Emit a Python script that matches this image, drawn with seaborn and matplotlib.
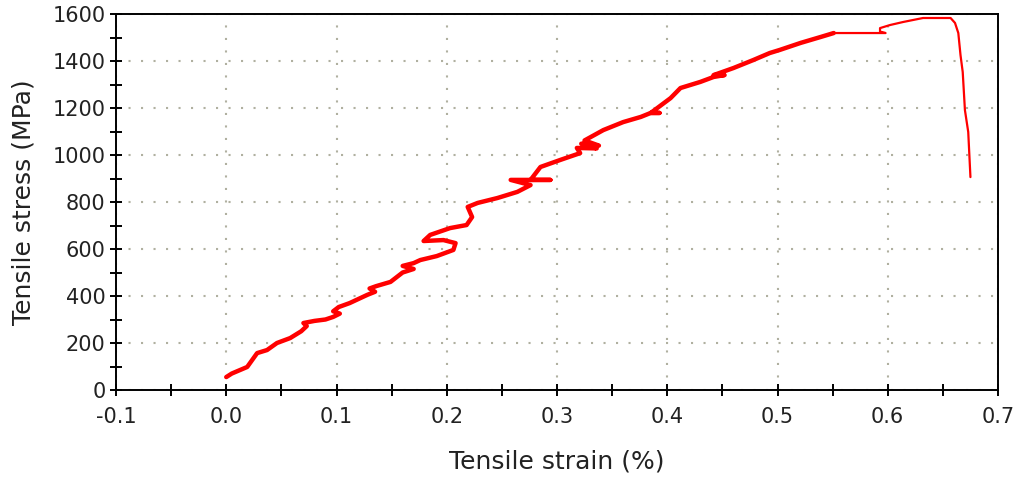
import matplotlib
matplotlib.use("Agg")
import matplotlib.pyplot as plt
from matplotlib.ticker import MultipleLocator
import seaborn as sns
import pandas as pd

strain = [0.000, 0.005, 0.019, 0.028, 0.037, 0.046, 0.058, 0.068, 0.073, 0.070, 0.080,
          0.090, 0.097, 0.103, 0.097, 0.102, 0.112, 0.128, 0.135, 0.130, 0.136, 0.149,
          0.160, 0.170, 0.160, 0.170, 0.176, 0.191, 0.206, 0.208, 0.197, 0.179,
          0.185, 0.203, 0.218, 0.223, 0.219, 0.228, 0.246, 0.264, 0.276, 0.258, 0.294,
          0.276, 0.285, 0.303, 0.321, 0.318, 0.336, 0.322, 0.338, 0.325, 0.342, 0.360,
          0.376, 0.385, 0.393, 0.385, 0.391, 0.403, 0.412, 0.430, 0.442, 0.452, 0.442,
          0.460, 0.478, 0.493, 0.502, 0.521, 0.539, 0.551, 0.598, 0.593, 0.593, 0.602,
          0.614, 0.632, 0.657, 0.661, 0.664, 0.666, 0.668, 0.670, 0.673, 0.675]
stress = [55, 70, 98, 157, 170, 200, 221, 250, 272, 285, 294,
          300, 311, 325, 335, 353, 370, 405, 418, 432, 442, 460,
          500, 515, 528, 540, 553, 570, 596, 625, 638, 634,
          660, 689, 702, 736, 779, 796, 817, 843, 872, 894, 894,
          894, 949, 979, 1008, 1030, 1028, 1048, 1040, 1062, 1106, 1140,
          1162, 1179, 1179, 1179, 1200, 1242, 1285, 1311, 1332, 1340, 1340,
          1370, 1404, 1434, 1447, 1477, 1502, 1519, 1519, 1525, 1540, 1553,
          1566, 1583, 1583, 1562, 1519, 1425, 1353, 1191, 1098, 906]

SPLIT = 71  # index where the smooth plateau/failure part starts

sns.set_theme(style="white")
plt.rcParams['font.family'] = ['DejaVu Sans']

fig = plt.figure(figsize=(10.19, 4.80), dpi=100)
ax = fig.add_axes([116 / 1019, 1 - 390 / 480, (998 - 116) / 1019, (390 - 14) / 480])

df1 = pd.DataFrame({"strain": strain[:SPLIT + 1], "stress": stress[:SPLIT + 1]})
df2 = pd.DataFrame({"strain": strain[SPLIT:], "stress": stress[SPLIT:]})
sns.lineplot(data=df1, x="strain", y="stress", sort=False, estimator=None,
             color="#ff0000", linewidth=3.2, ax=ax)
sns.lineplot(data=df2, x="strain", y="stress", sort=False, estimator=None,
             color="#ff0000", linewidth=1.6, ax=ax)

ax.set_xlim(-0.1, 0.7)
ax.set_ylim(0, 1600)
ax.xaxis.set_minor_locator(MultipleLocator(0.05))
ax.yaxis.set_major_locator(MultipleLocator(200))
ax.yaxis.set_minor_locator(MultipleLocator(100))
ax.set_xticks([round(-0.1 + 0.1 * i, 1) for i in range(9)])
ax.set_xticklabels(["-0.1", "0.0", "0.1", "0.2", "0.3", "0.4", "0.5", "0.6", "0.7"])

ax.grid(True, which="major", color="#b0b0a0", linestyle=(0, (1, 5)), linewidth=1.5)
ax.set_axisbelow(True)
for s in ax.spines.values():
    s.set_visible(True)
    s.set_color("black")
    s.set_linewidth(1.4)

ax.tick_params(which="both", direction="inout", length=9, width=1.4, colors="black",
               labelsize=15, labelcolor="#222222", bottom=True, left=True)
ax.tick_params(axis="x", pad=8)
ax.tick_params(axis="y", pad=3)

ax.set_xlabel("Tensile strain (%)", fontsize=18, color="#222222", labelpad=16)
ax.set_ylabel("Tensile stress (MPa)", fontsize=18, color="#222222", labelpad=12)

fig.savefig("out.png", dpi=100, facecolor="white")
